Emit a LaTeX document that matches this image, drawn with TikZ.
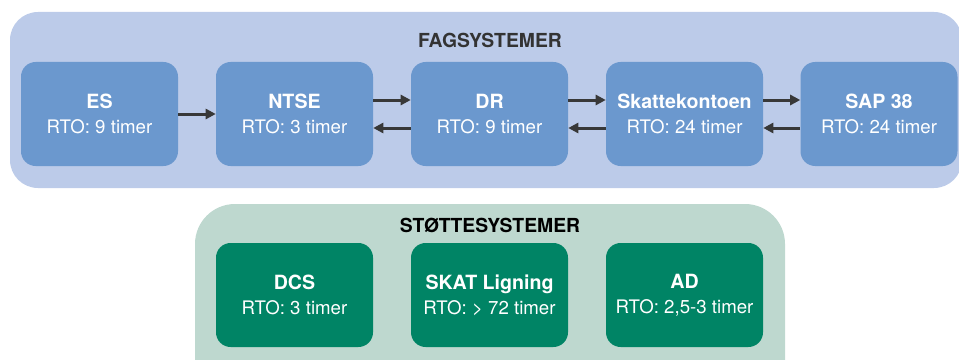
\documentclass[tikz,border=0pt]{standalone}
\usepackage{fontspec}
\setmainfont{TeX Gyre Heros}
\usetikzlibrary{arrows.meta}
\definecolor{fagbg}{HTML}{BCCBE9}
\definecolor{fagfill}{HTML}{6B98CE}
\definecolor{stotbg}{HTML}{BED8CF}
\definecolor{stotfill}{HTML}{008465}
\definecolor{pilgray}{HTML}{383838}
\definecolor{titlegray}{HTML}{333333}
\newcommand{\sysname}[1]{{\bfseries\fontsize{14.7}{18.75}\selectfont #1}}
\tikzset{sysbox/.style = {rounded corners=11pt, minimum width=117.75pt, minimum height=78pt, inner sep=0pt, text=white, align=center, font=\fontsize{14}{18.75}\selectfont}}
\tikzset{fag/.style = {sysbox, fill=fagfill}, stot/.style = {sysbox, fill=stotfill}}
\tikzset{pil/.style = {draw=pilgray, line width=2.25pt, -{Triangle[length=7.5pt, width=7.5pt]}}}
\tikzset{title/.style = {font=\bfseries\fontsize{14.5}{16}\selectfont}}

\begin{document}
\begin{tikzpicture}[x=0.75pt, y=-0.75pt]
\useasboundingbox (0,0) rectangle (959,360);
\clip (0,0) rectangle (959,360);
\fill [fagbg, rounded corners=21pt] (10,12) rectangle (962,188);
\fill [stotbg, rounded corners=30pt] (195,204) rectangle (785,400);
\node [title, text=titlegray] (fagtitle) at (490,40) {FAGSYSTEMER};
\node [title, text=black] (stottitle) at (490,225) {STØTTESYSTEMER};
\node [fag] (es) at (99.5,114) {\sysname{ES}\\RTO: 9 timer};
\node [fag] (ntse) at (294.5,114) {\sysname{NTSE}\\RTO: 3 timer};
\node [fag] (dr) at (489.5,114) {\sysname{DR}\\RTO: 9 timer};
\node [fag] (skatte) at (684.5,114) {\sysname{Skattekontoen}\\RTO: 24 timer};
\node [fag] (sap) at (879,114) {\sysname{SAP 38}\\RTO: 24 timer};
\node [stot] (dcs) at (294.5,295) {\sysname{DCS}\\RTO: 3 timer};
\node [stot] (skat) at (489.5,295) {\sysname{SKAT Ligning}\\RTO: > 72 timer};
\node [stot] (ad) at (684.5,295) {\sysname{AD}\\RTO: 2,5-3 timer};
\draw [pil] (es) -- (ntse);
\foreach \a/\b in {ntse/dr, dr/skatte, skatte/sap} {
  \draw [pil] ([yshift=10.5pt]\a.east) -- ([yshift=10.5pt]\b.west);
  \draw [pil] ([yshift=-10.5pt]\b.west) -- ([yshift=-10.5pt]\a.east);
}
\end{tikzpicture}
\end{document}
